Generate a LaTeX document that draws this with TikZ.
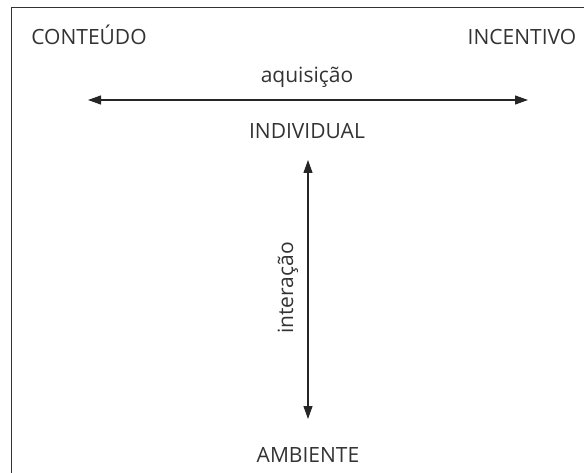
\documentclass[tikz,border=0pt]{standalone}
\usepackage{fontspec}
\setmainfont{Open Sans}
\usetikzlibrary{arrows.meta}
\definecolor{txt}{HTML}{333333}
\begin{document}
\begin{tikzpicture}[x=1pt,y=-1pt,
  lbl/.style={inner sep=0pt,text=txt,font=\fontsize{21}{24}\selectfont,anchor=base},
  axis/.style={line width=1.1pt,draw=black!85,{Triangle[length=13pt,width=9pt]}-{Triangle[length=13pt,width=9pt]}}]
\useasboundingbox (0,0) rectangle (584,473);
\draw[line width=1pt,black!80] (11,480) -- (11,7.5) -- (590,7.5);
\node[lbl] (cont) at (89,45) {CONTEÚDO};
\node[lbl] (inc) at (522,45) {INCENTIVO};
\node[lbl] (aq) at (307,83) {aquisição};
\node[lbl] (ind) at (307,139) {INDIVIDUAL};
\node[lbl] (amb) at (308,462) {AMBIENTE};
\coordinate (hl) at (88,100);
\coordinate (hr) at (528,100);
\coordinate (vt) at (308,160);
\coordinate (vb) at (308,419);
\draw[axis] (hl) -- (hr);
\draw[axis] (vt) -- (vb);
\node[lbl,rotate=90] (int) at (293,288) {interação};
\end{tikzpicture}
\end{document}
